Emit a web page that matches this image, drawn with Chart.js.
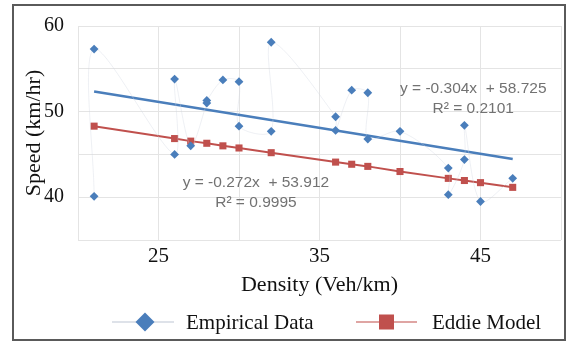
<!DOCTYPE html>
<html><head><meta charset="utf-8">
<script src="https://cdn.jsdelivr.net/npm/chart.js@4/dist/chart.umd.min.js"></script>
<style>html,body{margin:0;padding:0;background:#fff;}#wrap{width:566px;height:343px;position:relative;}</style>
</head><body><div id="wrap"><canvas id="c" width="566" height="343"></canvas></div>
<script>
// Empirical data (density Veh/km, speed km/hr), in plotted order
const empiricalDensity = [21, 21, 26, 26, 27, 28, 28, 29, 30, 30, 32, 32, 36, 36, 37, 38, 38, 40, 43, 43, 44, 44, 45, 47];
const empiricalSpeed   = [40.1, 57.3, 45.0, 53.8, 46.0, 51.0, 51.3, 53.7, 53.5, 48.3, 47.7, 58.1, 49.4, 47.8, 52.5, 52.2, 46.8, 47.7, 43.4, 40.3, 44.4, 48.4, 39.5, 42.2];
// Eddie model
const modelDensity = [21, 26, 27, 28, 29, 30, 32, 36, 37, 38, 40, 43, 44, 45, 47];
const modelSpeed   = [48.3, 46.85, 46.55, 46.3, 46.0, 45.75, 45.2, 44.1, 43.85, 43.6, 43.0, 42.2, 41.95, 41.7, 41.15];
// Linear trendline of empirical data (end points)
const trendDensity = [21, 47];
const trendSpeed   = [52.35, 44.45];
// Tick labels shown
const xTickLabels = [25, 35, 45];
const yTickLabels = [40, 50, 60];
// Trendline equations
const eqEmpirical = ["y = -0.304x  + 58.725", "R\u00B2 = 0.2101"];
const eqModel     = ["y = -0.272x  + 53.912", "R\u00B2 = 0.9995"];
const legendLabels = ["Empirical Data", "Eddie Model"];

const toPts = (xs, ys) => xs.map((x, i) => ({x: x, y: ys[i]}));

const BLUE = '#4a7ebb', RED = '#c0504d';
const SERIF = '"Liberation Serif", "Times New Roman", serif';
const SANS = '"Liberation Sans", Arial, sans-serif';

const annotPlugin = {
  id: 'annot',
  afterDatasetsDraw(chart) {
    const ctx = chart.ctx, xs = chart.scales.x, ys = chart.scales.y;
    ctx.save();
    ctx.fillStyle = '#727272';
    ctx.font = '15.5px ' + SANS;
    ctx.textAlign = 'center';
    ctx.textBaseline = 'middle';
    const place = [[eqEmpirical, 44.55, 52.68], [eqModel, 31.05, 41.65]];
    place.forEach(([lines, dx, dy]) => {
      const px = xs.getPixelForValue(dx), py = ys.getPixelForValue(dy);
      lines.forEach((t, i) => ctx.fillText(t, px, py + i * 20));
    });
    ctx.restore();
  },
  afterDraw(chart) {
    const ctx = chart.ctx;
    ctx.save();
    // legend
    const ly = 322;
    ctx.lineWidth = 1.5;
    ctx.strokeStyle = '#d3d9e2';
    ctx.beginPath(); ctx.moveTo(112, ly); ctx.lineTo(174, ly); ctx.stroke();
    ctx.fillStyle = BLUE;
    ctx.beginPath(); ctx.moveTo(145, ly - 9.5); ctx.lineTo(154.5, ly); ctx.lineTo(145, ly + 9.5); ctx.lineTo(135.5, ly); ctx.closePath(); ctx.fill();
    ctx.strokeStyle = '#d58784';
    ctx.beginPath(); ctx.moveTo(356, ly); ctx.lineTo(417, ly); ctx.stroke();
    ctx.fillStyle = RED;
    ctx.fillRect(379, ly - 7.5, 15, 15);
    ctx.fillStyle = '#111';
    ctx.font = '21px ' + SERIF;
    ctx.textAlign = 'left';
    ctx.textBaseline = 'middle';
    ctx.fillText(legendLabels[0], 186, ly + 1);
    ctx.fillText(legendLabels[1], 432, ly + 1);
    // frame
    ctx.strokeStyle = '#5a5a5a';
    ctx.lineWidth = 2;
    ctx.strokeRect(13, 5, 552, 335);
    ctx.restore();
  }
};

new Chart(document.getElementById('c'), {
  type: 'scatter',
  data: {
    datasets: [
      {
        label: legendLabels[0],
        data: toPts(empiricalDensity, empiricalSpeed),
        showLine: true,
        borderColor: 'rgba(205,212,224,0.35)',
        borderWidth: 1,
        tension: 0.3,
        pointStyle: 'rectRot',
        pointRadius: 4.4,
        pointBackgroundColor: BLUE,
        pointBorderColor: BLUE,
        pointBorderWidth: 0
      },
      {
        label: legendLabels[1],
        data: toPts(modelDensity, modelSpeed),
        showLine: true,
        borderColor: RED,
        borderWidth: 2,
        tension: 0,
        pointStyle: 'rect',
        pointRadius: 5,
        pointBackgroundColor: RED,
        pointBorderColor: RED,
        pointBorderWidth: 0
      },
      {
        label: 'trend',
        data: toPts(trendDensity, trendSpeed),
        showLine: true,
        borderColor: BLUE,
        borderWidth: 2.5,
        pointRadius: 0
      }
    ]
  },
  options: {
    responsive: false,
    animation: false,
    devicePixelRatio: 1,
    layout: { padding: { left: 0, right: 4, top: 21, bottom: 43 } },
    plugins: { legend: { display: false }, tooltip: { enabled: false } },
    scales: {
      x: {
        type: 'linear', min: 20, max: 50,
        afterFit: s => { s.height = 60; },
        ticks: {
          stepSize: 5, autoSkip: false, maxRotation: 0, padding: 4,
          color: '#111', font: { family: SERIF, size: 21 },
          callback: v => xTickLabels.includes(v) ? String(v) : ''
        },
        grid: { color: '#e4e4e4', drawTicks: false, lineWidth: 1 },
        border: { display: false },
        title: { display: true, text: 'Density (Veh/km)', color: '#111', font: { family: SERIF, size: 22 }, padding: { top: 0, bottom: 2 } }
      },
      y: {
        type: 'linear', min: 35, max: 60,
        afterFit: s => { s.width = 78; },
        ticks: {
          stepSize: 5, autoSkip: false, padding: 14,
          color: '#111', font: { family: SERIF, size: 20 },
          callback: v => yTickLabels.includes(v) ? String(v) : ''
        },
        grid: { color: '#e4e4e4', drawTicks: false, lineWidth: 1 },
        border: { display: false },
        title: { display: true, text: 'Speed (km/hr)', color: '#111', font: { family: SERIF, size: 22 }, padding: { top: 21, bottom: 0 } }
      }
    }
  },
  plugins: [annotPlugin]
});
</script></body></html>
